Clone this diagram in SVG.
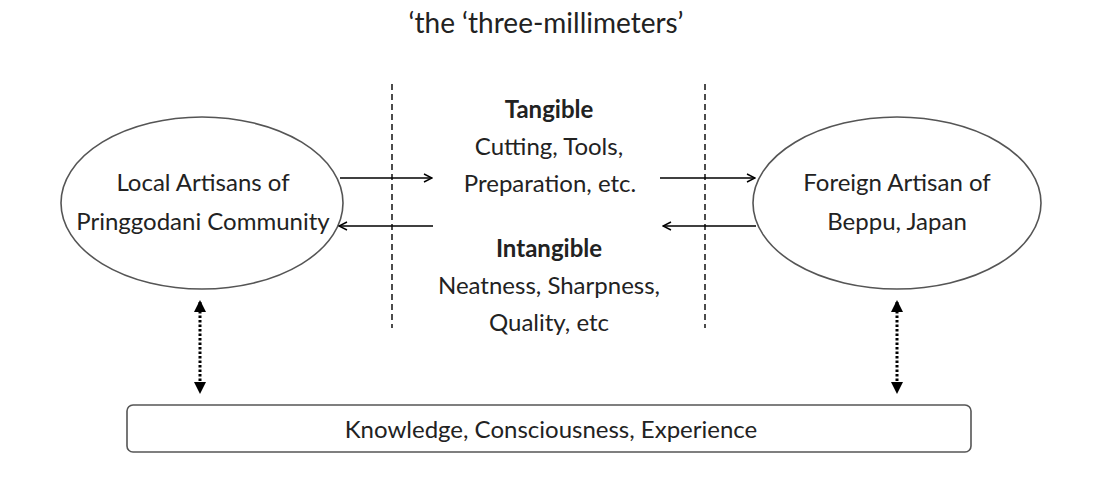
<svg xmlns="http://www.w3.org/2000/svg" width="1099" height="478" viewBox="0 0 1099 478">
<defs>
<style>
text{font-family:Lato,"Open Sans","Liberation Sans",sans-serif;font-size:24px;fill:#222;text-anchor:middle}
.t{font-size:28px}
.b{font-weight:bold}
.node{fill:#fff;stroke:#555;stroke-width:1.6}
.dash{stroke:#000;stroke-width:1.4;stroke-dasharray:6 4;fill:none}
.arr{stroke:#000;stroke-width:1.5;fill:none;marker-end:url(#open)}
.dot{stroke:#000;stroke-width:3;stroke-dasharray:2.5 2;fill:none;marker-start:url(#tri);marker-end:url(#tri)}
</style>
<marker id="open" viewBox="0 0 10 10" refX="9" refY="5" markerWidth="10" markerHeight="10" markerUnits="userSpaceOnUse" orient="auto">
<path d="M1,1 L9,5 L1,9" fill="none" stroke="#000" stroke-width="1.4"/>
</marker>
<marker id="tri" viewBox="0 0 12 12" refX="10" refY="6" markerWidth="12" markerHeight="12" markerUnits="userSpaceOnUse" orient="auto-start-reverse">
<path d="M0,0 L12,6 L0,12 Z" fill="#000"/>
</marker>
</defs>
<rect width="1099" height="478" fill="#fff"/>
<text class="t" x="546" y="33">‘the ‘three-millimeters’</text>
<g id="dividers">
<line class="dash" x1="392" y1="84" x2="392" y2="328"/>
<line class="dash" x1="705" y1="84" x2="705" y2="328"/>
</g>
<g id="local">
<ellipse class="node" cx="202" cy="203" rx="141" ry="86"/>
<text x="203" y="191">Local Artisans of</text>
<text x="203" y="230">Pringgodani Community</text>
</g>
<g id="foreign">
<ellipse class="node" cx="897" cy="203" rx="144" ry="86"/>
<text x="897" y="191">Foreign Artisan of</text>
<text x="897" y="230">Beppu, Japan</text>
</g>
<g id="transfer">
<text class="b" x="549" y="118">Tangible</text>
<text x="549" y="155">Cutting, Tools,</text>
<text x="550" y="192">Preparation, etc.</text>
<text class="b" x="549" y="257">Intangible</text>
<text x="549" y="294">Neatness, Sharpness,</text>
<text x="549" y="331">Quality, etc</text>
</g>
<g id="base">
<rect class="node" x="127" y="405" width="844" height="47" rx="6"/>
<text x="551" y="438">Knowledge, Consciousness, Experience</text>
</g>
<g id="connectors">
<line class="arr" x1="340" y1="178" x2="432" y2="178"/>
<line class="arr" x1="433" y1="226" x2="339" y2="226"/>
<line class="arr" x1="660" y1="178" x2="755" y2="178"/>
<line class="arr" x1="756" y1="226" x2="663" y2="226"/>
<line class="dot" x1="200" y1="302" x2="200" y2="392"/>
<line class="dot" x1="897" y1="302" x2="897" y2="392"/>
</g>
</svg>
